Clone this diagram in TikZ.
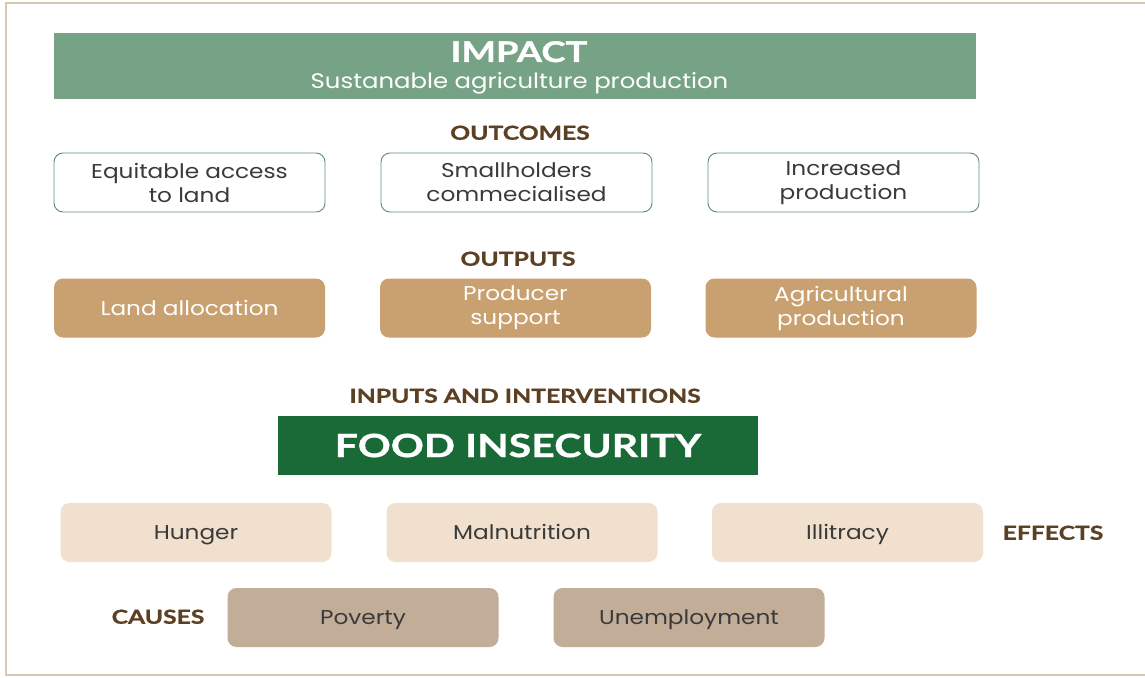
\documentclass[tikz,border=0pt]{standalone}
\usepackage{fontspec}
\setmainfont{Poppins}[FakeStretch=1.16]
\newfontfamily\headfont{Lato}[FakeStretch=1.28, BoldFeatures={FakeBold=1}]
\definecolor{impactgreen}{HTML}{76A386}
\definecolor{darkgreen}{HTML}{1A6A38}
\definecolor{outtan}{HTML}{C9A06F}
\definecolor{effbeige}{HTML}{F0E0CD}
\definecolor{causebrown}{HTML}{C2AD99}
\definecolor{headbrown}{HTML}{5C4024}
\definecolor{framec}{HTML}{D8C8AE}
\definecolor{outline}{HTML}{5F8A7A}
\definecolor{bodytext}{HTML}{3A3A3A}
\tikzset{
  base/.style={rounded corners=9pt, minimum width=271pt, minimum height=59pt, align=center, inner sep=0pt, font=\fontsize{20}{24}\selectfont},
  oneline/.style={text height=14pt, text depth=0pt},
  outcomebox/.style={base, draw=outline, line width=0.9pt, fill=white, text=bodytext},
  outputbox/.style={base, fill=outtan, text=white},
  effectbox/.style={base, oneline, fill=effbeige, text=bodytext},
  causebox/.style={base, oneline, fill=causebrown, text=bodytext},
  heading/.style={font=\headfont\bfseries\fontsize{19.3}{22}\selectfont, text=headbrown, inner sep=0pt, text height=13.5pt, text depth=0pt},
}
\begin{document}
\begin{tikzpicture}[x=1pt,y=-1pt]
\useasboundingbox (0,0) rectangle (1145,677);
\draw[framec, line width=2pt] (6,3) rectangle (1160,675);
% impact
\node[fill=impactgreen, minimum width=922pt, minimum height=66pt, inner sep=0pt] (impact) at (515,66) {};
\node[text=white, font=\headfont\bfseries\fontsize{28.5}{30}\selectfont, inner sep=0pt, text height=20pt, text depth=0pt] (impt) at (519,52) {IMPACT};
\node[text=white, font=\fontsize{21}{24}\selectfont, inner sep=0pt, text height=15pt, text depth=0pt] (impsub) at (519.5,81) {Sustanable agriculture production};
% outcomes
\node[heading] (outcomes) at (520,133) {OUTCOMES};
\node[outcomebox] (oc1) at (189.5,182.5) {Equitable access\\to land};
\node[outcomebox] (oc2) at (516.5,182.5) {Smallholders\\commecialised};
\node[outcomebox] (oc3) at (843.5,182.5) {Increased\\production};
% outputs
\node[heading] (outputs) at (518,259) {OUTPUTS};
\node[outputbox, oneline] (op1) at (189.5,308) {Land allocation};
\node[outputbox] (op2) at (515.5,308) {Producer\\support};
\node[outputbox] (op3) at (841,308) {Agricultural\\production};
% inputs
\node[heading] (inputs) at (525,396) {INPUTS AND INTERVENTIONS};
\node[fill=darkgreen, minimum width=480pt, minimum height=59pt, inner sep=0pt, text=white, font=\headfont\bfseries\fontsize{32}{36}\selectfont] (food) at (518,445.5) {FOOD INSECURITY};
% effects
\node[effectbox] (ef1) at (196,532.5) {Hunger};
\node[effectbox] (ef2) at (522,532.5) {Malnutrition};
\node[effectbox] (ef3) at (847.5,532.5) {Illitracy};
\node[heading] (effects) at (1053,533) {EFFECTS};
% causes
\node[heading] (causes) at (158,617) {CAUSES};
\node[causebox] (ca1) at (363,617.5) {Poverty};
\node[causebox] (ca2) at (689,617.5) {Unemployment};
\end{tikzpicture}
\end{document}
